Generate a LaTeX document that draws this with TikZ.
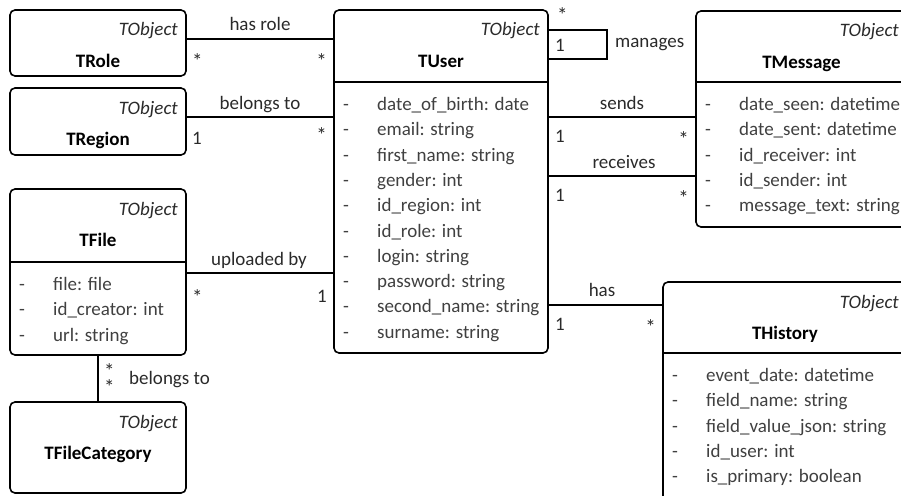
\documentclass[tikz,border=0pt]{standalone}
\usepackage{fontspec}
\setmainfont{Carlito}
\definecolor{attrgray}{HTML}{404040}
\definecolor{lblgray}{HTML}{2A2A2A}

% class box: name, left, top, right, bottom, class name
\newcommand\classbox[6]{%
  \node[cls, minimum width={#4-#2}, minimum height={#5-#3}] (#1) at ({(#2+#4)/2},{(#3+#5)/2}) {};
  \node[stereo] (#1-st) at (#4-8,#3+26) {TObject};
  \node[cname] (#1-nm) at ({(#2+#4)/2},#3+57) {#6};
}
% attribute compartment: box name, left, separator y, attribute list
\newcommand\attrlist[4]{%
  \draw[sepline] (#1.west |- 0,#3) -- (#1.east |- 0,#3);
  \foreach \t [count=\i from 0] in {#4} {
    \node[dashmark] (#1-d\i) at (#2+12,#3+28.5+25.3*\i) {-};
    \node[attr] (#1-a\i) at (#2+43,#3+28.5+25.3*\i) {\t};
  }
}

\begin{document}
\begin{tikzpicture}[x=1pt,y=-1pt,
  font=\fontsize{19}{23}\selectfont,
  cls/.style={draw, line width=1.6pt, rounded corners=5pt, inner sep=0pt, outer sep=0pt},
  sepline/.style={line width=1.6pt},
  stereo/.style={anchor=base east, inner sep=0pt, font=\fontsize{19}{23}\selectfont\itshape, text=lblgray},
  cname/.style={anchor=base, inner sep=0pt, font=\fontsize{19}{23}\selectfont\bfseries},
  attr/.style={anchor=base west, inner sep=0pt, text=attrgray},
  dashmark/.style={anchor=base, inner sep=0pt, text=attrgray},
  assoc/.style={line width=1.6pt},
  lbl/.style={anchor=base, inner sep=0pt, text=lblgray},
  multl/.style={anchor=base west, inner sep=0pt, text=lblgray},
  multr/.style={anchor=base east, inner sep=0pt, text=lblgray},
  star/.style={yshift=-4pt, font=\fontsize{21}{23}\selectfont},
]
\useasboundingbox (0,0) rectangle (901,495);
\clip (0,0) rectangle (901,495);

% classes
\classbox{role}{10}{10}{186}{76}{TRole}
\classbox{region}{10}{88}{186}{155}{TRegion}
\classbox{file}{10}{189}{186}{355}{TFile}
\attrlist{file}{10}{262}{file: file,id\_creator: int,url: string}
\classbox{filecat}{10}{402}{186}{493}{TFileCategory}
\classbox{user}{334}{10}{548}{353}{TUser}
\attrlist{user}{334}{82}{date\_of\_birth: date,email: string,first\_name: string,gender: int,id\_region: int,id\_role: int,login: string,password: string,second\_name: string,surname: string}
\classbox{message}{696}{11}{907}{227}{TMessage}
\attrlist{message}{696}{82}{date\_seen: datetime,date\_sent: datetime,id\_receiver: int,id\_sender: int,message\_text: string}
\classbox{history}{663}{282}{907}{520}{THistory}
\attrlist{history}{663}{353}{event\_date: datetime,field\_name: string,field\_value\_json: string,id\_user: int,is\_primary: boolean}

% has role
\draw[assoc] (role.east |- 0,39) -- (user.west |- 0,39);
\node[lbl] (l-role) at (260,31) {has role};
\node[multl, star] (m-role1) at (192,64) {*};
\node[multr, star] (m-role2) at (327,64) {*};

% belongs to (region)
\draw[assoc] (region.east |- 0,117) -- (user.west |- 0,117);
\node[lbl] (l-region) at (260,109) {belongs to};
\node[multl] (m-region1) at (192,144) {1};
\node[multr, star] (m-region2) at (327,138) {*};

% uploaded by
\draw[assoc] (file.east |- 0,273) -- (user.west |- 0,273);
\node[lbl] (l-file) at (259,265) {uploaded by};
\node[multl, star] (m-file1) at (192,300) {*};
\node[multr] (m-file2) at (327,302) {1};

% belongs to (file category): both end multiplicities stacked
\draw[assoc] (file.south) -- (filecat.north);
\node[multl, star] (m-cat1) at (104,374) {*};
\node[multl, star] (m-cat2) at (104,390) {*};
\node[anchor=base west, inner sep=0pt, text=lblgray] (l-cat) at (129,384) {belongs to};

% manages (self association)
\coordinate (loopc) at (607,59);
\draw[assoc] (user.east |- 0,30) -| (loopc) -- (user.east |- loopc);
\node[multl, star] (m-man1) at (557,19) {*};
\node[multl] (m-man2) at (555,52) {1};
\node[anchor=base west, inner sep=0pt, text=lblgray] (l-man) at (615,48) {manages};

% sends
\draw[assoc] (user.east |- 0,117) -- (message.west |- 0,117);
\node[lbl] (l-send) at (622,109) {sends};
\node[multl] (m-send1) at (555,142) {1};
\node[multr, star] (m-send2) at (689,142) {*};

% receives
\draw[assoc] (user.east |- 0,176) -- (message.west |- 0,176);
\node[lbl] (l-recv) at (624,168) {receives};
\node[multl] (m-recv1) at (555,201) {1};
\node[multr, star] (m-recv2) at (689,201) {*};

% has (history)
\draw[assoc] (user.east |- 0,305) -- (history.west |- 0,305);
\node[lbl] (l-hist) at (602,296) {has};
\node[multl] (m-hist1) at (555,330) {1};
\node[multr, star] (m-hist2) at (656,330) {*};
\end{tikzpicture}
\end{document}
